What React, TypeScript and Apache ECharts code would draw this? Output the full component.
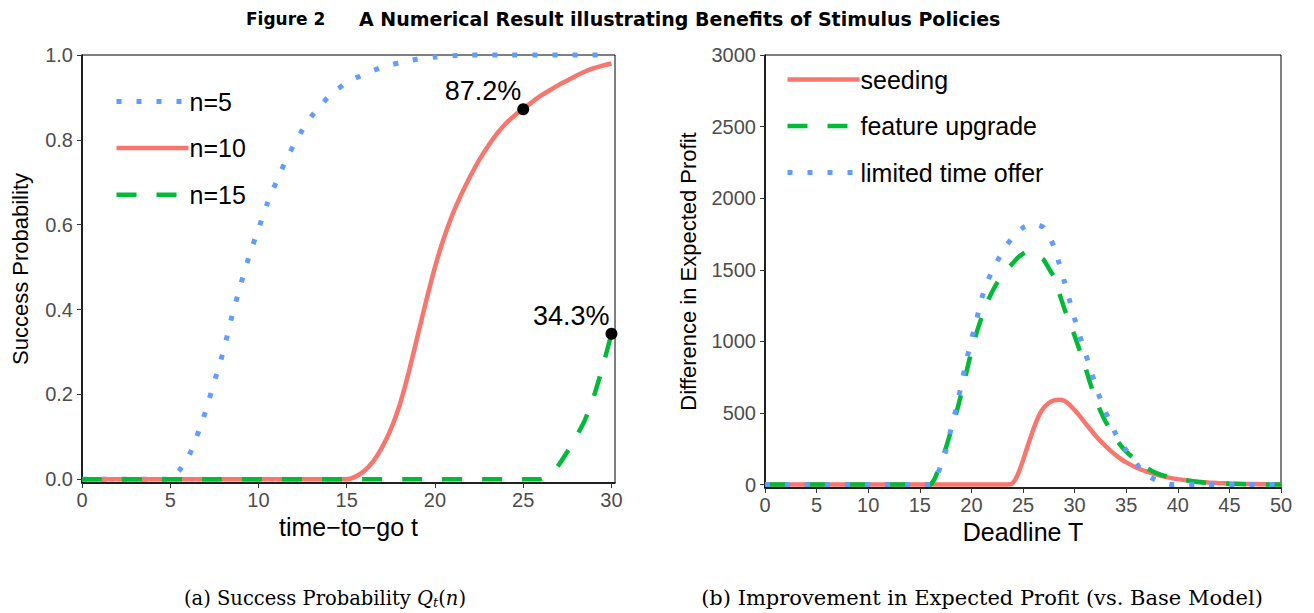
import React, { useEffect, useRef } from "react";
import * as echarts from "echarts";

// ---------- data ----------
const xTicksA = [0, 5, 10, 15, 20, 25, 30];
const yTicksA = [0, 0.2, 0.4, 0.6, 0.8, 1.0];
const xTicksB = [0, 5, 10, 15, 20, 25, 30, 35, 40, 45, 50];
const yTicksB = [0, 500, 1000, 1500, 2000, 2500, 3000];

// Panel (a): success probability vs time-to-go t
const n5 = [
  [0, 0], [4.5, 0], [5, 0], [5.5, 0.02], [6, 0.05], [6.5, 0.1], [7, 0.16], [7.5, 0.23], [8, 0.3],
  [8.5, 0.385], [9, 0.46], [9.5, 0.53], [10, 0.59], [10.5, 0.65], [11, 0.7], [11.5, 0.747],
  [12, 0.788], [12.5, 0.824], [13, 0.855], [13.5, 0.88], [14, 0.903], [14.5, 0.92], [15, 0.935],
  [16, 0.955], [17, 0.971], [18, 0.982], [19, 0.99], [20, 0.995], [21, 0.998], [22, 1], [30, 1],
];
const n10 = [
  [0, 0], [14.5, 0], [15, 0], [15.5, 0.006], [16, 0.02], [16.5, 0.042], [17, 0.075], [17.5, 0.118],
  [18, 0.175], [18.5, 0.25], [19, 0.335], [19.5, 0.42], [20, 0.5], [20.5, 0.568], [21, 0.625],
  [21.5, 0.672], [22, 0.714], [22.5, 0.752], [23, 0.785], [23.5, 0.814], [24, 0.838], [24.5, 0.857],
  [25, 0.873], [25.5, 0.889], [26, 0.904], [26.5, 0.917], [27, 0.929], [27.5, 0.94], [28, 0.951],
  [28.5, 0.961], [29, 0.969], [29.5, 0.975], [30, 0.98],
];
const n15 = [
  [0, 0], [25.5, 0], [26, 0], [26.5, 0.012], [27, 0.033], [27.5, 0.065], [28, 0.1], [28.5, 0.14],
  [29, 0.195], [29.5, 0.265], [30, 0.343],
];
const annotPoints = [[25, 0.872], [30, 0.343]];
const annotLabels = ["87.2%", "34.3%"];

// Panel (b): difference in expected profit vs deadline T
const seeding = [
  [0, 0], [23, 0], [23.5, 0], [24, 10], [24.5, 70], [25, 170], [25.5, 280], [26, 385], [26.5, 475],
  [27, 535], [27.5, 570], [28, 588], [28.5, 593], [29, 585], [29.5, 558], [30, 520], [30.5, 478],
  [31, 432], [31.5, 388], [32, 345], [32.5, 305], [33, 268], [33.5, 235], [34, 205], [34.5, 178],
  [35, 155], [36, 117], [37, 90], [38, 68], [39, 50], [40, 38], [41, 28], [42, 20], [43, 14],
  [44, 10], [45, 7], [46, 5], [48, 3], [50, 2],
];
const featureUpgrade = [
  [0, 0], [15.5, 0], [16, 0], [16.5, 50], [17, 150], [17.5, 250], [18, 370], [18.5, 490], [19, 630],
  [19.5, 780], [20, 930], [20.5, 1060], [21, 1170], [21.5, 1270], [22, 1345], [22.5, 1410],
  [23, 1465], [23.5, 1505], [24, 1545], [24.5, 1585], [25, 1612], [25.5, 1628], [26, 1625],
  [26.5, 1600], [27, 1570], [27.5, 1510], [28, 1450], [28.5, 1340], [29, 1230], [29.5, 1135],
  [30, 1040], [30.5, 935], [31, 830], [31.5, 710], [32, 605], [32.5, 515], [33, 440], [33.5, 380],
  [34, 320], [34.5, 270], [35, 230], [35.5, 198], [36, 168], [36.5, 138], [37, 115], [37.5, 95],
  [38, 78], [39, 55], [40, 38], [41, 28], [42, 18], [43, 12], [44, 8], [45, 5], [47, 2], [50, 0],
];
const limitedTimeOffer = [
  [0, 0], [15.5, 0], [16, 0], [16.5, 40], [17, 125], [17.5, 230], [18, 380], [18.5, 525], [19, 690],
  [19.5, 860], [20, 1010], [20.5, 1150], [21, 1300], [21.5, 1410], [22, 1490], [22.5, 1560],
  [23, 1625], [23.5, 1680], [24, 1725], [24.5, 1765], [25, 1795], [25.5, 1812], [26, 1818],
  [26.5, 1812], [27, 1795], [27.5, 1740], [28, 1660], [28.5, 1545], [29, 1420], [29.5, 1290],
  [30, 1160], [30.5, 1040], [31, 930], [31.5, 815], [32, 700], [32.5, 595], [33, 505], [33.5, 430],
  [34, 350], [34.5, 290], [35, 240], [35.5, 195], [36, 145], [36.5, 100], [37, 70], [37.5, 45],
  [38, 28], [38.5, 15], [39, 5], [39.5, 0], [50, 0],
];

// ---------- styles ----------
const RED = "#F8766D";
const GREEN = "#00BA38";
const BLUE = "#619CFF";
const FONT = "'Liberation Sans', Arial, Helvetica, sans-serif";
const TITLE_FONT = "'DejaVu Sans', 'Liberation Sans', sans-serif";
const SERIF = "'DejaVu Serif', 'Liberation Serif', serif";
const DOTTED = { width: 5, type: [5, 15], cap: "butt" as const };
const DASHED = { width: 4.5, type: [20, 20], cap: "butt" as const };
const SOLID = { width: 4.5, type: "solid" as const, cap: "butt" as const };

function lineSeries(name: string, data: number[][], color: string, ls: any, idx: number) {
  return {
    type: "line",
    name,
    data,
    xAxisIndex: idx,
    yAxisIndex: idx,
    showSymbol: false,
    symbol: "none",
    smooth: 0.2,
    clip: false,
    color,
    itemStyle: { color },
    lineStyle: { color, ...ls },
    emphasis: { disabled: true },
  };
}

function xAxisCfg(idx: number, max: number, ticks: number[], name: string) {
  return {
    type: "value",
    gridIndex: idx,
    min: 0,
    max,
    name,
    nameLocation: "middle",
    nameGap: 31,
    nameTextStyle: { fontFamily: FONT, fontSize: 25, color: "#000" },
    axisLine: { show: true, onZero: false, lineStyle: { color: "#000", width: 1.5 } },
    axisTick: { show: true, customValues: ticks, length: 5, lineStyle: { color: "#333", width: 1 } },
    axisLabel: {
      show: true,
      customValues: ticks,
      margin: 7,
      fontFamily: FONT,
      fontSize: 20,
      color: "#4D4D4D",
    },
    splitLine: { show: false },
  };
}

function yAxisCfg(idx: number, min: number, max: number, ticks: number[], name: string, gap: number, fmt: (v: number) => string) {
  return {
    type: "value",
    gridIndex: idx,
    min,
    max,
    name,
    nameLocation: "middle",
    nameRotate: 90,
    nameGap: gap,
    nameTextStyle: { fontFamily: FONT, fontSize: 22, color: "#000" },
    axisLine: { show: true, onZero: false, lineStyle: { color: "#000", width: 1.5 } },
    axisTick: { show: true, customValues: ticks, length: 5, lineStyle: { color: "#333", width: 1 } },
    axisLabel: {
      show: true,
      customValues: ticks,
      margin: 9,
      fontFamily: FONT,
      fontSize: 20,
      color: "#4D4D4D",
      formatter: fmt,
    },
    splitLine: { show: false },
  };
}

function legendItem(name: string, color: string, ls: any) {
  return { name, itemStyle: { color, opacity: 0 }, lineStyle: { color, ...ls } };
}

export default function App() {
  const ref = useRef<HTMLDivElement>(null);

  useEffect(() => {
    if (!ref.current) return;
    const chart = echarts.init(ref.current, null, { renderer: "svg" });

    const option: any = {
      animation: false,
      backgroundColor: "#fff",
      title: [
        {
          text: "Figure 2",
          left: 246,
          top: 10,
          padding: 0,
          textStyle: { fontFamily: TITLE_FONT, fontWeight: "bold", fontSize: 17, color: "#000" },
        },
        {
          text: "A Numerical Result illustrating Benefits of Stimulus Policies",
          left: 359,
          top: 9,
          padding: 0,
          textStyle: { fontFamily: TITLE_FONT, fontWeight: "bold", fontSize: 19, color: "#000" },
        },
      ],
      grid: [
        { left: 82, top: 55, width: 533, height: 428, show: true, borderColor: "#000", borderWidth: 1, backgroundColor: "transparent" },
        { left: 765, top: 55, width: 516, height: 433, show: true, borderColor: "#000", borderWidth: 1, backgroundColor: "transparent" },
      ],
      xAxis: [
        xAxisCfg(0, 30.2, xTicksA, "time\u2212to\u2212go t"),
        xAxisCfg(1, 50, xTicksB, "Deadline T"),
      ],
      yAxis: [
        yAxisCfg(0, -0.009, 1.0, yTicksA, "Success Probability", 51, (v: number) => v.toFixed(1)),
        yAxisCfg(1, -24, 3000, yTicksB, "Difference in Expected Profit", 66, (v: number) => String(v)),
      ],
      legend: [
        {
          left: 114,
          top: 89,
          orient: "vertical",
          itemWidth: 72,
          itemHeight: 24,
          itemGap: 21.6,
          selectedMode: false,
          padding: 0,
          textStyle: { fontFamily: FONT, fontSize: 25, color: "#000", lineHeight: 24, padding: [0, 0, 0, -4] },
          data: [
            legendItem("n=5", BLUE, DOTTED),
            legendItem("n=10", RED, SOLID),
            legendItem("n=15", GREEN, DASHED),
          ],
        },
        {
          left: 785,
          top: 67,
          orient: "vertical",
          itemWidth: 72,
          itemHeight: 24,
          itemGap: 21.5,
          selectedMode: false,
          padding: 0,
          textStyle: { fontFamily: FONT, fontSize: 25, color: "#000", lineHeight: 24, padding: [0, 0, 0, -4] },
          data: [
            legendItem("seeding", RED, SOLID),
            legendItem("feature upgrade", GREEN, DASHED),
            legendItem("limited time offer", BLUE, DOTTED),
          ],
        },
      ],
      series: [
        lineSeries("n=5", n5, BLUE, DOTTED, 0),
        lineSeries("n=10", n10, RED, SOLID, 0),
        lineSeries("n=15", n15, GREEN, DASHED, 0),
        {
          type: "scatter",
          name: "annotations",
          xAxisIndex: 0,
          yAxisIndex: 0,
          clip: false,
          z: 5,
          symbol: "circle",
          symbolSize: 12,
          itemStyle: { color: "#000", opacity: 1 },
          data: annotPoints.map((p, i) => ({ value: p, label: { formatter: annotLabels[i] } })),
          label: {
            show: true,
            position: "left",
            offset: [9, -18],
            fontFamily: FONT,
            fontSize: 27,
            color: "#000",
          },
          emphasis: { disabled: true },
        },
        lineSeries("seeding", seeding, RED, SOLID, 1),
        lineSeries("feature upgrade", featureUpgrade, GREEN, DASHED, 1),
        lineSeries("limited time offer", limitedTimeOffer, BLUE, DOTTED, 1),
      ],
      graphic: [
        {
          type: "text",
          x: 325,
          y: 598,
          style: {
            text: "{n|(a) Success Probability }{i|Q}{s|t}{n|(}{i|n}{n|)}",
            align: "center",
            verticalAlign: "middle",
            rich: {
              n: { fontFamily: SERIF, fontSize: 19.5, fill: "#000" },
              i: { fontFamily: SERIF, fontSize: 19.5, fontStyle: "italic", fill: "#000" },
              s: { fontFamily: SERIF, fontSize: 13, fontStyle: "italic", fill: "#000", padding: [9, 0, 0, 0] },
            },
          },
        },
        {
          type: "text",
          x: 982,
          y: 598,
          style: {
            text: "(b) Improvement in Expected Profit (vs. Base Model)",
            align: "center",
            verticalAlign: "middle",
            fontFamily: SERIF,
            fontSize: 21,
            fill: "#000",
          },
        },
      ],
    };

    chart.setOption(option);
    return () => chart.dispose();
  }, []);

  return (
    <div
      ref={ref}
      style={{ position: "absolute", left: 0, top: 0, width: 1314, height: 613 }}
    />
  );
}
